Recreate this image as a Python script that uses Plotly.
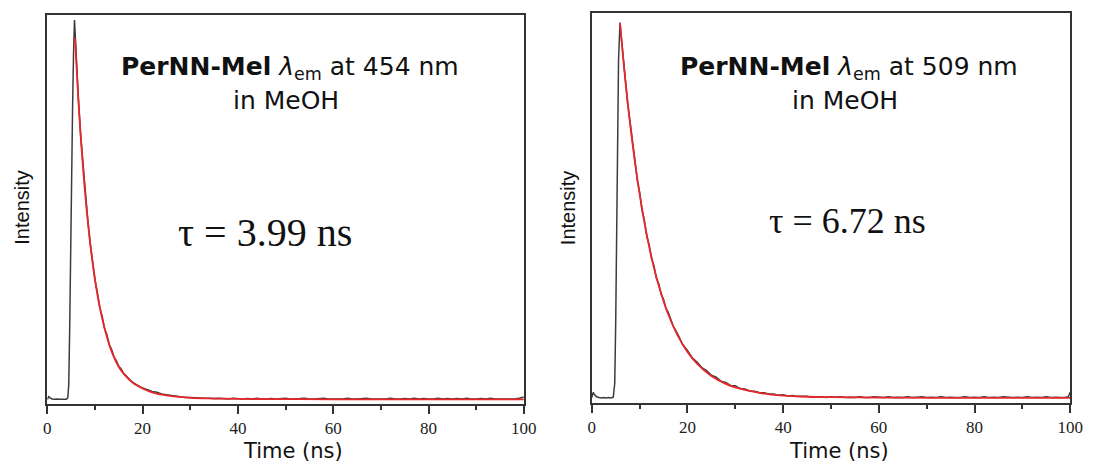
import plotly.graph_objects as go

# ---------------- data (normalized intensity) ----------------
# Left panel: lambda_em 454 nm
left_t_raw = [0, 0.3, 0.6, 1, 1.5, 2, 2.5, 3, 3.5, 4, 4.3, 4.5, 4.7, 4.9, 5.1, 5.3, 5.5, 5.7, 5.9,
              6.2, 6.5, 7, 7.5, 8, 8.5, 9, 9.5, 10, 10.5, 11, 11.5, 12, 12.5, 13, 13.5, 14, 14.5,
              15, 15.5, 16, 16.5, 17, 17.5, 18, 18.5, 19, 19.5, 20, 21, 22, 23, 24, 25, 26, 27,
              28, 29, 30, 31, 32, 33, 34, 35, 36, 37, 38, 39, 40, 41, 42, 43, 44, 45, 46, 47, 48,
              49, 50, 51, 52, 53, 54, 55, 56, 57, 58, 59, 60, 61, 62, 63, 64, 65, 66, 67, 68, 69,
              70, 71, 72, 73, 74, 75, 76, 77, 78, 79, 80, 81, 82, 83, 84, 85, 86, 87, 88, 89, 90,
              91, 92, 93, 94, 95, 96, 97, 98, 99, 100]
left_v_raw = [0.012, 0.019, 0.016, 0.013, 0.012, 0.013, 0.012, 0.012, 0.013, 0.012, 0.016, 0.05,
              0.2, 0.42, 0.6, 0.76, 0.9, 0.987, 0.94,
              0.85, 0.79, 0.69, 0.616, 0.534, 0.472, 0.413, 0.366, 0.320, 0.287, 0.249, 0.226,
              0.195, 0.178, 0.153, 0.140, 0.121, 0.111, 0.097, 0.090, 0.079, 0.073, 0.065, 0.060,
              0.055, 0.051, 0.047, 0.044, 0.041, 0.037, 0.032, 0.030, 0.026, 0.024, 0.022, 0.020,
              0.019, 0.017, 0.017, 0.016, 0.016, 0.015, 0.015, 0.014, 0.015, 0.014, 0.013, 0.015,
              0.014, 0.013, 0.014, 0.013, 0.015, 0.013, 0.013, 0.014, 0.013, 0.014, 0.015, 0.013,
              0.013, 0.014, 0.015, 0.013, 0.013, 0.014, 0.015, 0.013, 0.013, 0.014, 0.013, 0.015,
              0.013, 0.013, 0.014, 0.015, 0.013, 0.013, 0.014, 0.013, 0.015, 0.013, 0.013, 0.014,
              0.013, 0.015, 0.013, 0.014, 0.013, 0.013, 0.015, 0.013, 0.014, 0.013, 0.014, 0.013,
              0.015, 0.013, 0.013, 0.014, 0.013, 0.015, 0.013, 0.013, 0.014, 0.014, 0.013, 0.015,
              0.018]
left_t_fit = [5.8, 6.5, 7, 8, 9, 10, 11, 12, 13, 14, 15, 16, 18, 20, 22, 25, 30, 35, 40, 50, 60, 80, 100]
left_v_fit = [0.941, 0.785, 0.690, 0.533, 0.413, 0.320, 0.249, 0.195, 0.152, 0.120, 0.095, 0.078,
              0.054, 0.040, 0.030, 0.022, 0.016, 0.014, 0.013, 0.0125, 0.012, 0.012, 0.012]

# Right panel: lambda_em 509 nm
right_t_raw = [0, 0.3, 0.6, 1, 1.5, 2, 2.5, 3, 3.5, 4, 4.5, 4.8, 5.0, 5.2, 5.4, 5.6, 5.9,
               6.5, 7, 7.5, 8, 8.5, 9, 9.5, 10, 10.5, 11, 11.5, 12, 12.5, 13, 13.5, 14, 14.5,
               15, 15.5, 16, 17, 18, 19, 20, 21, 22, 23, 24, 25, 26, 27, 28, 29, 30, 31, 32, 33,
               34, 35, 36, 37, 38, 39, 40, 41, 42, 43, 44, 45, 46, 47, 48, 49, 50, 51, 52, 53, 54,
               55, 56, 57, 58, 59, 60, 61, 62, 63, 64, 65, 66, 67, 68, 69, 70, 71, 72, 73, 74, 75,
               76, 77, 78, 79, 80, 81, 82, 83, 84, 85, 86, 87, 88, 89, 90, 91, 92, 93, 94, 95, 96,
               97, 98, 99, 99.6, 100]
right_v_raw = [0.014, 0.027, 0.021, 0.016, 0.014, 0.013, 0.014, 0.013, 0.014, 0.013, 0.015, 0.05,
               0.2, 0.45, 0.7, 0.88, 0.975,
               0.895, 0.834, 0.768, 0.722, 0.666, 0.625, 0.573, 0.541, 0.496, 0.468, 0.428, 0.405,
               0.370, 0.352, 0.320, 0.306, 0.279, 0.266, 0.243, 0.232, 0.198, 0.176, 0.150, 0.135,
               0.116, 0.105, 0.091, 0.083, 0.071, 0.066, 0.056, 0.053, 0.045, 0.044, 0.037, 0.036,
               0.031, 0.030, 0.027, 0.026, 0.023, 0.023, 0.020, 0.021, 0.018, 0.019, 0.017, 0.017,
               0.017, 0.015, 0.016, 0.016, 0.014, 0.016, 0.015, 0.016, 0.014, 0.015, 0.014, 0.016,
               0.014, 0.014, 0.016, 0.015, 0.014, 0.016, 0.014, 0.015, 0.014, 0.016, 0.014, 0.015,
               0.016, 0.014, 0.015, 0.014, 0.016, 0.014, 0.015, 0.014, 0.014, 0.016, 0.014, 0.015,
               0.014, 0.016, 0.014, 0.015, 0.014, 0.016, 0.015, 0.014, 0.015, 0.014, 0.016, 0.014,
               0.015, 0.014, 0.016, 0.014, 0.015, 0.014, 0.015, 0.016, 0.028, 0.016]
right_t_fit = [5.9, 6.5, 7, 8, 9, 10, 11, 12, 13, 14, 15, 16, 18, 20, 22, 25, 28, 30, 35, 40, 45, 50, 60, 80, 100]
right_v_fit = [0.975, 0.893, 0.829, 0.717, 0.620, 0.536, 0.463, 0.401, 0.347, 0.301, 0.261, 0.227,
               0.172, 0.131, 0.101, 0.069, 0.049, 0.040, 0.026, 0.019, 0.016, 0.015, 0.014, 0.013, 0.013]

x_ticks = [0, 20, 40, 60, 80, 100]
x_ticklabels = ["0", "20", "40", "60", "80", "100"]

title_line1 = ["<b>PerNN-Mel</b> <i>λ</i><sub>em</sub> at 454 nm",
               "<b>PerNN-Mel</b> <i>λ</i><sub>em</sub> at 509 nm"]
title_line2 = "in MeOH"
tau_labels = ["τ = 3.99 ns", "τ = 6.72 ns"]

# ---------------- figure ----------------
W, H = 1098, 464
BLACK = "#3c3c3c"
RED = "#e8272b"
AX = "#333333"

fig = go.Figure()
fig.add_trace(go.Scatter(x=left_t_raw, y=left_v_raw, mode="lines", line=dict(color=BLACK, width=1.5),
                         xaxis="x", yaxis="y", showlegend=False))
fig.add_trace(go.Scatter(x=left_t_fit, y=left_v_fit, mode="lines", line=dict(color=RED, width=1.8, shape="spline"),
                         xaxis="x", yaxis="y", showlegend=False))
fig.add_trace(go.Scatter(x=right_t_raw, y=right_v_raw, mode="lines", line=dict(color=BLACK, width=1.5),
                         xaxis="x2", yaxis="y2", showlegend=False))
fig.add_trace(go.Scatter(x=right_t_fit, y=right_v_fit, mode="lines", line=dict(color=RED, width=1.8, shape="spline"),
                         xaxis="x2", yaxis="y2", showlegend=False))

def px_x(p):
    return p / W

def px_y(p):
    return 1 - p / H

xcommon = dict(range=[0, 100], showgrid=False, zeroline=False, showline=True, linecolor=AX, linewidth=1.5,
               mirror=True, ticks="outside", tickcolor=AX, tickwidth=1.5, ticklen=8,
               tickvals=x_ticks, ticktext=x_ticklabels,
               tickfont=dict(family="Liberation Serif, Times New Roman, serif", size=17, color="#222222"),
               minor=dict(dtick=10, ticks="outside", ticklen=4, tickcolor=AX, tickwidth=1.5, showgrid=False))
ycommon = dict(range=[0, 1], showgrid=False, zeroline=False, showline=True, linecolor=AX, linewidth=1.5,
               mirror=True, ticks="", showticklabels=False)

fig.update_layout(
    width=W, height=H, margin=dict(l=0, r=0, t=0, b=0),
    paper_bgcolor="white", plot_bgcolor="white",
    xaxis=dict(domain=[px_x(44), px_x(528)], anchor="y", **xcommon),
    yaxis=dict(domain=[px_y(404), px_y(15)], anchor="x", **ycommon),
    xaxis2=dict(domain=[px_x(597), px_x(1083)], anchor="y2", **xcommon),
    yaxis2=dict(domain=[px_y(403), px_y(13)], anchor="x2", **ycommon),
)

ann = []
TFONT = "DejaVu Sans"
for l1x, l2x, line1, tau, tx, ty, tsize, ylx, xlx in [
    (290, 286, title_line1[0], tau_labels[0], 265, 232, 40, 18, 294),
    (858, 854, title_line1[1], tau_labels[1], 857, 221, 36, 573, 848),
]:
    ann.append(dict(x=px_x(l1x), y=px_y(68), xref="paper", yref="paper", text=line1, showarrow=False,
                    font=dict(family=TFONT, size=25, color="#111111"), xanchor="center", yanchor="middle"))
    ann.append(dict(x=px_x(l2x), y=px_y(101), xref="paper", yref="paper", text=title_line2, showarrow=False,
                    font=dict(family=TFONT, size=25, color="#111111"), xanchor="center", yanchor="middle"))
    ann.append(dict(x=px_x(tx), y=px_y(ty), xref="paper", yref="paper", text=tau, showarrow=False,
                    font=dict(family="Liberation Serif, Times New Roman, serif", size=tsize, color="#111111"),
                    xanchor="center", yanchor="middle"))
    ann.append(dict(x=px_x(ylx), y=px_y(208), xref="paper", yref="paper", text="Intensity", showarrow=False,
                    textangle=-90, font=dict(family="Liberation Sans", size=20, color="#111111"),
                    xanchor="center", yanchor="middle"))
    ann.append(dict(x=px_x(xlx), y=px_y(451), xref="paper", yref="paper", text="Time (ns)", showarrow=False,
                    font=dict(family=TFONT, size=21, color="#111111"), xanchor="center", yanchor="middle"))
fig.update_layout(annotations=ann)

fig.write_html("out.html")
